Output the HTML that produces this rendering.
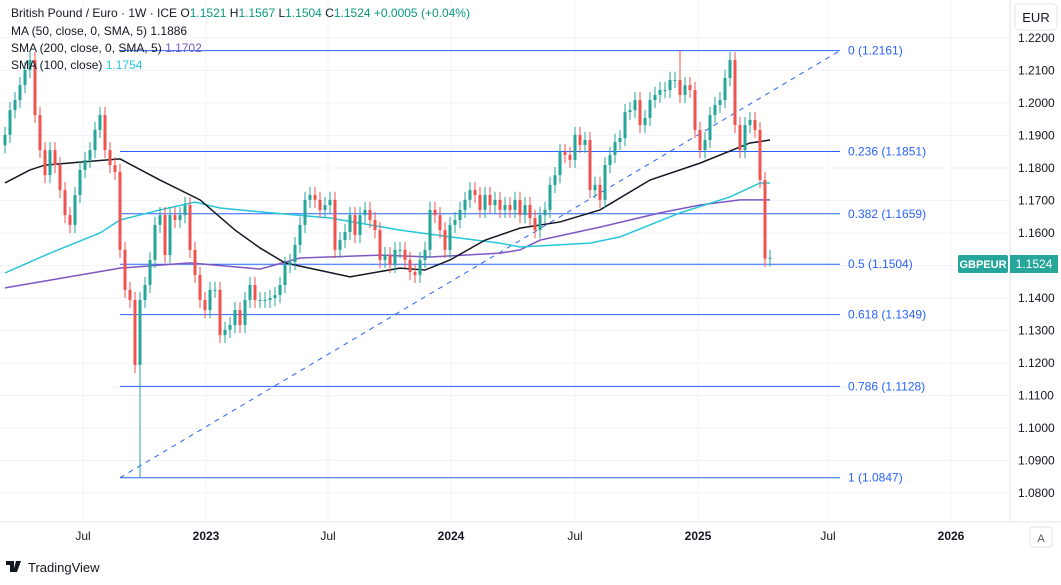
<!DOCTYPE html>
<html><head><meta charset="utf-8">
<style>
body{margin:0;background:#fff;font-family:"Liberation Sans",sans-serif;}
svg text{font-family:"Liberation Sans",sans-serif;}
</style></head>
<body>
<svg id="c" width="1061" height="580" xmlns="http://www.w3.org/2000/svg">
<rect width="1061" height="580" fill="#fff"/>
<g id="grid"></g>
<g id="fib"></g>
<g id="mas"></g>
<g id="candles"></g>
<g id="axis"></g>
<line x1="1010" y1="0" x2="1010" y2="522" stroke="#e0e3eb"/>
<line x1="0" y1="522" x2="1061" y2="522" stroke="#e0e3eb"/>
<rect x="1015" y="4" width="42" height="26" rx="4" fill="#fff" stroke="#e0e3eb"/>
<text x="1036" y="22" font-size="13" text-anchor="middle" fill="#131722">EUR</text>
<rect x="1030" y="527" width="22" height="20" rx="3" fill="#fff" stroke="#e0e3eb"/>
<text x="1041" y="542" font-size="11" text-anchor="middle" fill="#555">A</text>
<g font-size="12">
<text x="11" y="17" fill="#131722">British Pound / Euro · 1W · ICE <tspan fill="#131722">O</tspan><tspan fill="#089981">1.1521</tspan> H<tspan fill="#089981">1.1567</tspan> L<tspan fill="#089981">1.1504</tspan> C<tspan fill="#089981">1.1524 +0.0005 (+0.04%)</tspan></text>
<text x="11" y="35" fill="#131722">MA (50, close, 0, SMA, 5) <tspan fill="#131722">1.1886</tspan></text>
<text x="11" y="52" fill="#131722">SMA (200, close, 0, SMA, 5) <tspan fill="#7e57c2">1.1702</tspan></text>
<text x="11" y="69" fill="#131722">SMA (100, close) <tspan fill="#26c6da">1.1754</tspan></text>
</g>
<rect x="958" y="255" width="50" height="18" rx="2" fill="#26a69a"/>
<text x="983" y="268" font-size="11" font-weight="bold" text-anchor="middle" fill="#fff">GBPEUR</text>
<rect x="1010" y="255" width="48" height="18" fill="#26a69a"/>
<text x="1034" y="268" font-size="12" text-anchor="middle" fill="#fff">1.1524</text>
<g>
<path d="M6 561h8v11h-4v-7H6z M16 561l5 0-4 11h-4z" fill="#131722"/>
<circle cx="18" cy="563" r="2" fill="#131722"/>
<text x="28" y="572" font-size="13" fill="#131722">TradingView</text>
</g>
</svg>
<script>
const closes=[1.1902,1.1978,1.2009,1.2055,1.2102,1.2132,1.1963,1.1855,1.1778,1.1855,1.1809,1.1732,1.1655,1.1625,1.1717,1.1794,1.1825,1.1855,1.1917,1.1963,1.1855,1.1809,1.1788,1.1548,1.1425,1.1394,1.1194,1.1394,1.1440,1.1517,1.1625,1.1655,1.1532,1.1655,1.1640,1.1655,1.1686,1.1548,1.1471,1.1394,1.1363,1.1425,1.1425,1.1286,1.1302,1.1317,1.1363,1.1317,1.1394,1.1440,1.1394,1.1394,1.1394,1.1400,1.1409,1.1440,1.1502,1.1511,1.1563,1.1625,1.1702,1.1717,1.1702,1.1671,1.1686,1.1702,1.1548,1.1578,1.1603,1.1655,1.1594,1.1655,1.1671,1.1640,1.1609,1.1517,1.1532,1.1502,1.1548,1.1548,1.1517,1.1480,1.1471,1.1517,1.1548,1.1671,1.1655,1.1609,1.1548,1.1625,1.1640,1.1671,1.1702,1.1732,1.1717,1.1671,1.1717,1.1686,1.1702,1.1671,1.1686,1.1671,1.1702,1.1655,1.1686,1.1646,1.1609,1.1655,1.1671,1.1748,1.1778,1.1849,1.1840,1.1825,1.1902,1.1871,1.1886,1.1732,1.1748,1.1702,1.1809,1.1840,1.1880,1.1892,1.1972,1.1978,1.2009,1.1932,1.1954,1.2009,1.2025,1.2040,1.2040,1.2071,1.2071,1.2025,1.2055,1.2040,1.1917,1.1855,1.1886,1.1963,1.1994,1.2009,1.2077,1.2132,1.1932,1.1855,1.1932,1.1948,1.1917,1.1763,1.1521,1.1524];
const openFirst=1.1870;
const wickLowOverride={27:1.0847};
const wickHighOverride={135:1.2161};
const ma50Idx=[0,5,8,15,23,31,39,46,51,56,69,79,84,89,96,103,111,119,129,139,149,153];
const ma50Val=[1.1754,1.1794,1.1809,1.1818,1.1828,1.1763,1.1702,1.1609,1.1554,1.1508,1.1465,1.1492,1.1486,1.1517,1.1578,1.1615,1.1634,1.1671,1.1763,1.1815,1.1877,1.1886];
const sma100Idx=[0,9,19,23,31,38,43,51,65,79,89,99,103,117,123,135,145,151,153];
const sma100Val=[1.1477,1.1538,1.1600,1.1640,1.1671,1.1695,1.1677,1.1665,1.1646,1.1609,1.1588,1.1569,1.1557,1.1569,1.1588,1.1662,1.1711,1.1754,1.1754];
const sma200Idx=[0,23,37,51,59,75,85,99,103,107,119,131,139,147,153];
const sma200Val=[1.1431,1.1492,1.1508,1.1489,1.1523,1.1532,1.1526,1.1538,1.1548,1.1578,1.1618,1.1662,1.1686,1.1702,1.1702];
const priceTicks=[1.22,1.21,1.20,1.19,1.18,1.17,1.16,1.15,1.14,1.13,1.12,1.11,1.10,1.09,1.08];
const timeLabels=["Jul","2023","Jul","2024","Jul","2025","Jul","2026"];
const timeIdx=[15.6,40.2,64.6,89.2,114,138.6,164.6,189.2];
const fibLevels=[0,0.236,0.382,0.5,0.618,0.786,1];
const fibHigh=1.2161, fibLow=1.0847;

const NS="http://www.w3.org/2000/svg";
const y=v=>38+(1.22-v)*3250;
const x=i=>5+5*i;
function el(tag,attrs,parent){const e=document.createElementNS(NS,tag);for(const k in attrs)e.setAttribute(k,attrs[k]);parent.appendChild(e);return e;}
const grid=document.getElementById('grid'),axis=document.getElementById('axis');
priceTicks.forEach(v=>{
  const g=el('line',{x1:0,x2:1010,y1:y(v),y2:y(v),stroke:'#f0f3fa'},grid);
  
  
  const t=el('text',{x:1018,y:y(v)+4,'font-size':12,fill:'#131722'},axis);
  t.textContent=v.toFixed(4);
  
  
});
timeLabels.forEach((s,k)=>{
  const px=x(timeIdx[k]);
  const g=el('line',{x1:px,x2:px,y1:0,y2:522,stroke:'#f0f3fa'},grid);
  
  
  const t=el('text',{x:px,y:540,'font-size':12,'text-anchor':'middle',fill:'#131722','font-weight':/^\d/.test(s)?'bold':'normal'},axis);
  t.textContent=s;
  
  
});
// fib
const fib=document.getElementById('fib');
const fx1=120,fx2=840;
fibLevels.forEach(l=>{
  const v=fibHigh-(fibHigh-fibLow)*l;
  const ln=el('line',{x1:fx1,x2:fx2,y1:y(v),y2:y(v),stroke:'#2962ff','stroke-width':1},fib);
  
  
  const t=el('text',{x:848,y:y(v)+4,'font-size':12,fill:'#2962ff'},fib);
  t.textContent=l+' ('+v.toFixed(4)+')';
  
  
});
const d=el('line',{x1:fx1,y1:y(fibLow),x2:fx2,y2:y(fibHigh),stroke:'#2962ff','stroke-dasharray':'5,5'},fib);


// MAs
const mas=document.getElementById('mas');
function line(idx,vals,col,name){
  const p=el('polyline',{points:idx.map((i,k)=>x(i)+','+y(vals[k])).join(' '),fill:'none',stroke:col,'stroke-width':1.5},mas);
  
  
}
line(sma200Idx,sma200Val,'#7e57c2','sma200-line');
line(sma100Idx,sma100Val,'#26c6da','sma100-line');
line(ma50Idx,ma50Val,'#131722','ma50-line');
// candles
const cg=document.getElementById('candles');
closes.forEach((c,i)=>{
  const o=i===0?openFirst:closes[i-1];
  const up=c>=o;
  const col=up?'#26a69a':'#ef5350';
  const hi=wickHighOverride[i]!==undefined?wickHighOverride[i]:Math.max(o,c)+0.0025;
  const lo=wickLowOverride[i]!==undefined?wickLowOverride[i]:Math.min(o,c)-0.0025;
  const w=el('line',{x1:x(i),x2:x(i),y1:y(hi),y2:y(lo),stroke:col,'stroke-width':1},cg);
  
  
  const top=y(Math.max(o,c)),bot=y(Math.min(o,c));
  const b=el('rect',{x:x(i)-1.5,y:top,width:3,height:Math.max(1,bot-top),fill:col},cg);
  
  
});
</script>
</body></html>
